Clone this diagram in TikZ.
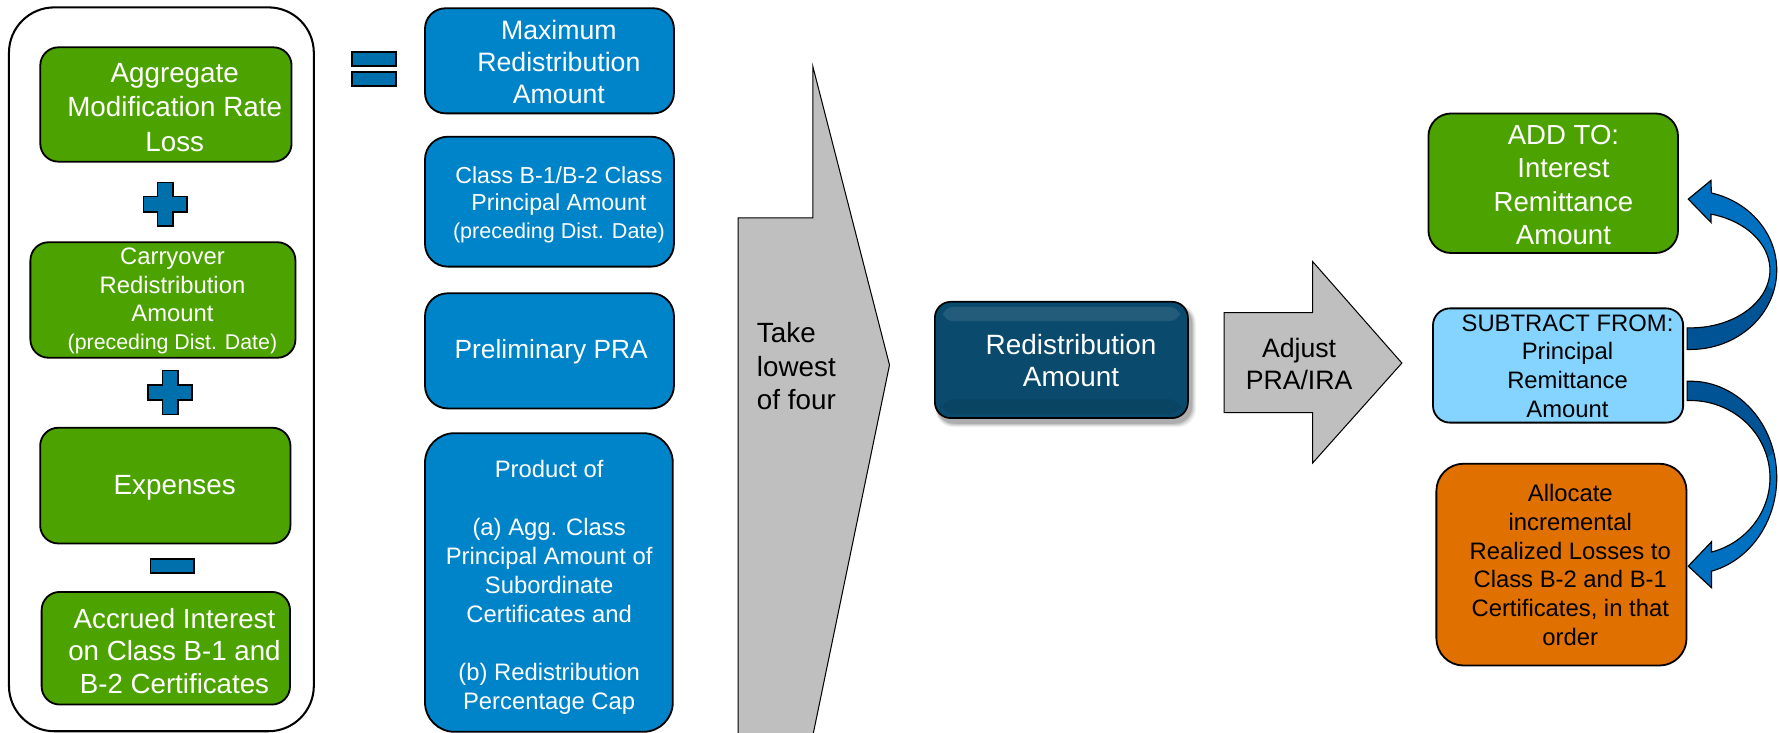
\documentclass[tikz,border=0pt]{standalone}
\usepackage{fontspec}
\setmainfont{Liberation Sans}
\definecolor{gfill}{RGB}{76,163,0}
\definecolor{bfill}{RGB}{0,132,201}
\definecolor{signfill}{RGB}{0,112,173}
\definecolor{darkbox}{RGB}{10,74,108}
\definecolor{ofill}{RGB}{224,112,0}
\definecolor{lbfill}{RGB}{133,211,255}
\definecolor{arrowgray}{RGB}{191,191,191}
\definecolor{cbright}{RGB}{0,112,192}
\definecolor{cdark}{RGB}{0,84,150}
\newcommand\setfs[2]{\fontsize{#1}{#2}\selectfont}
\tikzset{
  box/.style={draw=black, line width=1.6pt, inner sep=0pt},
  greenbox/.style={box, fill=gfill, rounded corners=16pt},
  bluebox/.style={box, fill=bfill},
  lbl/.style={align=center, inner sep=0pt, text=white},
  dlbl/.style={align=center, inner sep=0pt, text=black},
  sign/.style={draw=black, line width=1.4pt, fill=signfill},
  grayarrow/.style={draw=black, line width=0.9pt, fill=arrowgray},
  plussign/.pic={
    \filldraw[sign] (-6.7,-19.3) -- (6.7,-19.3) -- (6.7,-6.8) -- (19.3,-6.8)
      -- (19.3,6.8) -- (6.7,6.8) -- (6.7,19.3) -- (-6.7,19.3) -- (-6.7,6.8)
      -- (-19.3,6.8) -- (-19.3,-6.8) -- (-6.7,-6.8) -- cycle;
  }
}
\begin{document}
\begin{tikzpicture}[x=1pt, y=-1pt]
\useasboundingbox (0,0) rectangle (1568,646);

% ---- left summation panel ----
\node[box, line width=1.8pt, rounded corners=40pt, fill=white,
      minimum width=268.7pt, minimum height=638pt] (sumframe) at (142.25,325.5) {};

\node[greenbox, minimum width=221.5pt, minimum height=100.8pt] (g1) at (146.25,92.1) {};
\node[lbl, font=\setfs{24.5}{30.2}] (g1t) at (154,94.8) {Aggregate\\Modification Rate\\Loss};

\pic at (145.6,180) {plussign};

\node[greenbox, minimum width=233.6pt, minimum height=101.8pt] (g2) at (143.6,264.4) {};
\node[lbl, font=\setfs{21}{25}] (g2t) at (152,265.5)
  {Carryover\\Redistribution\\Amount\\{\setfs{18.8}{25}(preceding Dist. Date)}};

\pic at (150,346) {plussign};

\node[greenbox, minimum width=220.6pt, minimum height=102pt] (g3) at (145.7,428) {};
\node[lbl, font=\setfs{24.5}{30}] (g3t) at (154,430) {Expenses};

\filldraw[sign] (132.6,492.7) rectangle (171,505);

\node[greenbox, minimum width=218.9pt, minimum height=99.3pt] (g4) at (146.15,571.35) {};
\node[lbl, font=\setfs{24.4}{28.7}] (g4t) at (153.8,573.6)
  {Accrued Interest\\on Class B-1 and\\B-2 Certificates};

% ---- equals sign ----
\filldraw[sign] (310,46) rectangle (349,58.4);
\filldraw[sign] (310,63.7) rectangle (349,76);

% ---- the four candidate amounts ----
\node[bluebox, rounded corners=18pt, minimum width=219.4pt, minimum height=92.6pt] (b1) at (484.3,53.6) {};
\node[lbl, font=\setfs{23.5}{28.3}] (b1t) at (492.6,54.7) {Maximum\\Redistribution\\Amount};

\node[bluebox, rounded corners=20pt, minimum width=219.4pt, minimum height=114.5pt] (b2) at (484.3,177.75) {};
\node[lbl, font=\setfs{20.4}{24.5}] (b2t) at (492.6,180.5)
  {Class B-1/B-2 Class\\Principal Amount\\{\setfs{19}{24.5}(preceding Dist. Date)}};

\node[bluebox, rounded corners=20pt, minimum width=219.4pt, minimum height=101.5pt] (b3) at (484.3,309.25) {};
\node[lbl, font=\setfs{23.2}{28}] (b3t) at (485.8,310) {Preliminary PRA};

\node[bluebox, rounded corners=26pt, minimum width=218.4pt, minimum height=263.2pt] (b4) at (483.8,513.4) {};
\node[lbl, font=\setfs{21}{25.6}] (b4t) at (484,517.8)
  {Product of\\[25.6pt](a) Agg. Class\\Principal Amount of\\Subordinate\\Certificates and\\[25.6pt](b) Redistribution\\Percentage Cap};

% ---- "take lowest" block arrow ----
\begin{scope}
  \clip (0,0) rectangle (1568,646);
  \filldraw[grayarrow] (650.5,660) -- (650.5,192) -- (716.5,192) -- (716.5,58.8)
    -- (784,321.7) -- (714,660) -- cycle;
\end{scope}
\node[dlbl, align=left, anchor=west, font=\setfs{24.5}{29.5}] (taket) at (667,323)
  {Take\\lowest\\of four};

% ---- redistribution amount (glossy button) ----
\foreach \g/\op in {5/0.06,4/0.08,3/0.10,2/0.12}
  \fill[black, opacity=\op, rounded corners=16pt]
    (824+2-\g*0.3,266+4-\g*0.3) rectangle (1047+2+\g,368.5+3+\g);
\node[draw=black, line width=1.5pt, fill=darkbox, rounded corners=14pt,
      minimum width=223pt, minimum height=102.5pt] (redist) at (935.5,317.25) {};
\fill[white, opacity=0.10, rounded corners=9pt] (831,270.5) rectangle (1040,283);
\fill[black, opacity=0.08, rounded corners=12pt] (829,352) rectangle (1042,365);
\node[lbl, font=\setfs{24.6}{28}] (redistt) at (944,318) {Redistribution\\Amount};

% ---- "adjust" block arrow ----
\filldraw[grayarrow] (1079,275.6) -- (1157,275.6) -- (1157,230.6) -- (1235.6,320)
  -- (1157,408) -- (1157,363.7) -- (1079,363.7) -- cycle;
\node[dlbl, font=\setfs{23.5}{28}] (adjt) at (1145,321) {Adjust\\PRA/IRA};

% ---- outcomes ----
\node[box, fill=gfill, rounded corners=20pt, minimum width=220pt, minimum height=123pt] (add) at (1369,161.5) {};
\node[lbl, font=\setfs{24.3}{29.4}] (addt) at (1378,163)
  {ADD TO:\\Interest\\Remittance\\Amount};

\node[box, fill=lbfill, rounded corners=15pt, minimum width=220.5pt, minimum height=100.7pt] (sub) at (1373.25,322.15) {};
\node[dlbl, font=\setfs{21}{25.5}] (subt) at (1381.6,322.8)
  {SUBTRACT FROM:\\Principal\\Remittance\\Amount};

\node[box, fill=ofill, rounded corners=24pt, minimum width=220.5pt, minimum height=177.9pt] (alloc) at (1376.25,497.65) {};
\node[dlbl, font=\setfs{21}{25.3}] (alloct) at (1384,498)
  {Allocate\\incremental\\Realized Losses to\\Class B-2 and B-1\\Certificates, in that\\order};

% ---- curved arrows out of the subtract box ----
\coordinate (uptail) at (1487,308);
\coordinate (uptip) at (1488,175.5);
\coordinate (lotail) at (1487,336);
\coordinate (lotip) at (1488,499);

% upward arrow to the add box
\fill[cbright] (uptail) -- (1490,308) arc[start angle=90, end angle=-76, x radius=76, y radius=70]
  -- (1508,159) -- (uptip) -- (1508,196) -- (1508,188.7)
  arc[start angle=-75.1, end angle=90, x radius=70, y radius=51] -- (1487,289) -- cycle;
\fill[cdark] (uptail) -- (1490,308) arc[start angle=90, end angle=15, x radius=76, y radius=70]
  -- ({1490+70*cos(15)},{238+51*sin(15)}) arc[start angle=15, end angle=90, x radius=70, y radius=51]
  -- (1487,289) -- cycle;
\draw[black, line width=1pt] (uptail) -- (1490,308) arc[start angle=90, end angle=-76, x radius=76, y radius=70]
  -- (1508,159) -- (uptip) -- (1508,196) -- (1508,188.7)
  arc[start angle=-75.1, end angle=90, x radius=70, y radius=51] -- (1487,289) -- cycle;

% downward arrow to the allocate box
\fill[cbright] (lotail) -- (1490,336) arc[start angle=-90, end angle=75.9, x radius=76, y radius=85]
  -- (1508.5,518) -- (lotip) -- (1508.5,477.5) -- (1508.5,486.6)
  arc[start angle=74.7, end angle=-90, x radius=70, y radius=68] -- (1487,353) -- cycle;
\fill[cdark] (lotail) -- (1490,336) arc[start angle=-90, end angle=-15, x radius=76, y radius=85]
  -- ({1490+70*cos(15)},{421-68*sin(15)}) arc[start angle=-15, end angle=-90, x radius=70, y radius=68]
  -- (1487,353) -- cycle;
\draw[black, line width=1pt] (lotail) -- (1490,336) arc[start angle=-90, end angle=75.9, x radius=76, y radius=85]
  -- (1508.5,518) -- (lotip) -- (1508.5,477.5) -- (1508.5,486.6)
  arc[start angle=74.7, end angle=-90, x radius=70, y radius=68] -- (1487,353) -- cycle;
\end{tikzpicture}
\end{document}
